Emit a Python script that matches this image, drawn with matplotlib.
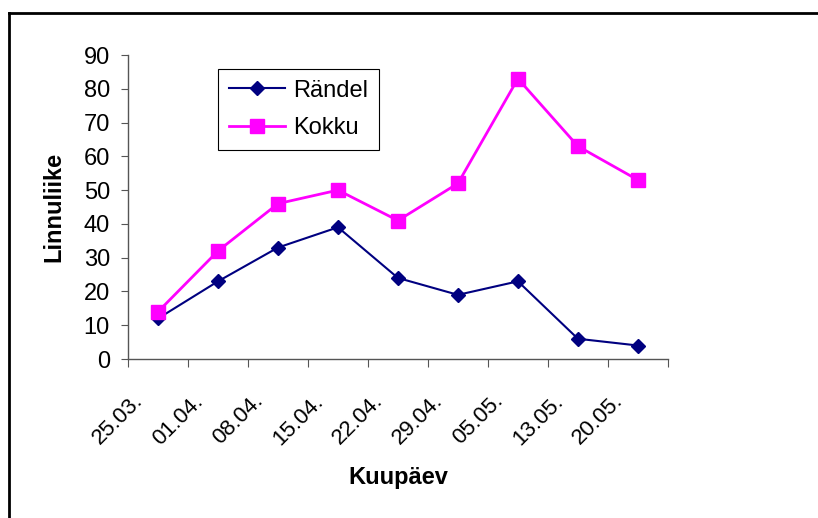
import numpy as np
from matplotlib import pyplot as plt
from matplotlib.lines import Line2D
from matplotlib.transforms import ScaledTranslation

plt.rcParams['font.family'] = ['Liberation Sans', 'DejaVu Sans']

dates = ["25.03.", "01.04.", "08.04.", "15.04.", "22.04.", "29.04.", "05.05.", "13.05.", "20.05."]
randel = [12, 23, 33, 39, 24, 19, 23, 6, 4]
kokku = [14, 32, 46, 50, 41, 52, 83, 63, 53]

fig = plt.figure(figsize=(8.18, 5.18), dpi=100)
ax = fig.add_axes([0.1565, 0.3069, 0.66, 0.5869])

x = np.arange(len(dates))
ax.plot(x, randel, color="#000080", lw=1.5, marker="D", ms=7.5, label="Rändel")
ax.plot(x, kokku, color="#FF00FF", lw=2, marker="s", ms=9.5, label="Kokku")

ax.set_xlim(-0.5, len(dates) - 0.5)
ax.set_ylim(0, 90)
ax.set_yticks(range(0, 91, 10))
ax.set_xticks(np.arange(-0.5, len(dates), 1))
ax.set_xticklabels([])
ax.set_xticks(x, minor=True)
ax.set_xticklabels(dates, minor=True, rotation=45, ha="right", va="center",
                   rotation_mode="anchor", fontsize=16)
ax.tick_params(axis="x", which="minor", length=0, pad=28)
ax.tick_params(axis="x", which="major", length=6, direction="out", color="#555555")
ax.tick_params(axis="y", length=5, direction="out", labelsize=17, color="#555555", pad=8)
shift = ScaledTranslation(-18 / 100, 0, fig.dpi_scale_trans)
for lab in ax.get_xticklabels(minor=True):
    lab.set_transform(lab.get_transform() + shift)

for s in ["top", "right"]:
    ax.spines[s].set_visible(False)
for s in ["left", "bottom"]:
    ax.spines[s].set_color("#555555")
    ax.spines[s].set_linewidth(1)

ax.set_ylabel("Linnuliike", fontsize=17, fontweight="bold", labelpad=13)
ax.set_xlabel("Kuupäev", fontsize=17, fontweight="bold", labelpad=12)

leg = ax.legend(loc="upper left", bbox_to_anchor=(0.1667, 0.954), fontsize=17,
                frameon=True, fancybox=False, edgecolor="black", framealpha=1,
                borderaxespad=0, handlelength=2.4, borderpad=0.45,
                labelspacing=0.65, handletextpad=0.35)
leg.get_frame().set_linewidth(0.8)

# outer chart border (top and left visible)
fig.add_artist(Line2D([0.011, 1.0], [0.975, 0.975], color="black", lw=2))
fig.add_artist(Line2D([0.011, 0.011], [0.0, 0.975], color="black", lw=2))

fig.savefig("out.png", dpi=100)
